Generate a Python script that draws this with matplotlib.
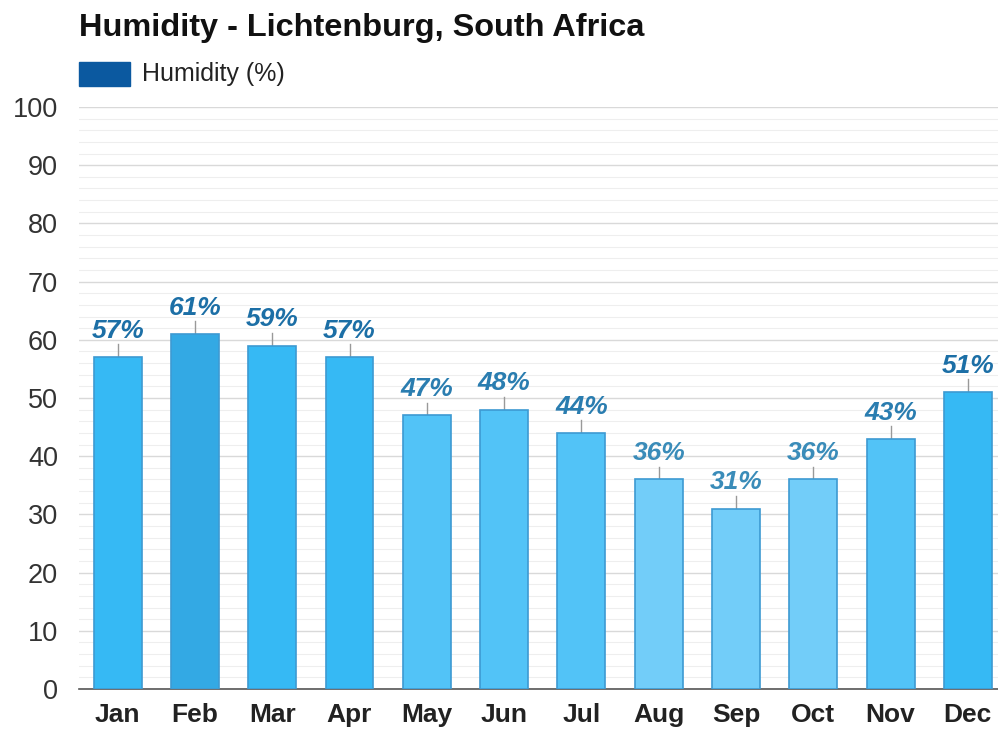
import matplotlib.pyplot as plt
import numpy as np

months = ["Jan", "Feb", "Mar", "Apr", "May", "Jun", "Jul", "Aug", "Sep", "Oct", "Nov", "Dec"]
humidity = [57, 61, 59, 57, 47, 48, 44, 36, 31, 36, 43, 51]

bar_colors = ["#36b9f4", "#33a9e4", "#36b9f4", "#36b9f4", "#52c3f7", "#52c3f7",
              "#52c3f7", "#72cdf9", "#72cdf9", "#72cdf9", "#52c3f7", "#36b9f4"]
label_colors = ["#1c6fa6", "#1c6fa6", "#1c6fa6", "#1c6fa6", "#2a7db0", "#2a7db0",
                "#2a7db0", "#3a8cb9", "#3a8cb9", "#3a8cb9", "#2a7db0", "#1c6fa6"]

plt.rcParams['font.family'] = ['Liberation Sans', 'DejaVu Sans']

fig = plt.figure(figsize=(9.98, 7.31), dpi=100)
ax = fig.add_axes([79 / 998, 1 - 689 / 731, 1 - 79 / 998, (689 - 107) / 731])

x = np.arange(len(months))
ax.bar(x, humidity, width=0.62, color=bar_colors, edgecolor="#3d9ad2", linewidth=1.2, zorder=3)

for i, v in enumerate(humidity):
    ax.plot([i, i], [v, v + 2.2], color="#999999", linewidth=1, zorder=2)
    ax.annotate(f"{v}%", (i, v + 2.2), xytext=(0, 1), textcoords="offset points",
                ha="center", va="bottom", fontsize=19, fontweight="bold", fontstyle="italic",
                color=label_colors[i])

ax.set_ylim(0, 100)
ax.set_xlim(-0.5, 11.39)
ax.set_yticks(range(0, 101, 10))
ax.set_yticks(range(0, 101, 2), minor=True)
ax.grid(axis="y", which="major", color="#d9d9d9", linewidth=1, zorder=0)
ax.grid(axis="y", which="minor", color="#eeeeee", linewidth=0.8, zorder=0)
ax.set_xticks(x)
ax.set_xticklabels(months, fontsize=19, fontweight="bold", color="#222222")
ax.tick_params(axis="x", length=0, pad=10)
ax.tick_params(axis="y", which="both", length=0, labelsize=19.5, labelcolor="#333333", pad=15)
for s in ["top", "right", "left"]:
    ax.spines[s].set_visible(False)
ax.spines["bottom"].set_color("#555555")
ax.spines["bottom"].set_linewidth(1.2)

fig.text(79 / 998, 1 - 28 / 731, "Humidity - Lichtenburg, South Africa", fontsize=23.4,
         fontweight="bold", color="#111111", va="center", ha="left")
fig.patches.append(plt.Rectangle((79 / 998, 1 - 86 / 731), 51 / 998, 24 / 731,
                                 transform=fig.transFigure, color="#0b59a0"))
fig.text(142 / 998, 1 - 74 / 731, "Humidity (%)", fontsize=18, color="#222222",
         va="center", ha="left")

fig.savefig("out.png", dpi=100)
